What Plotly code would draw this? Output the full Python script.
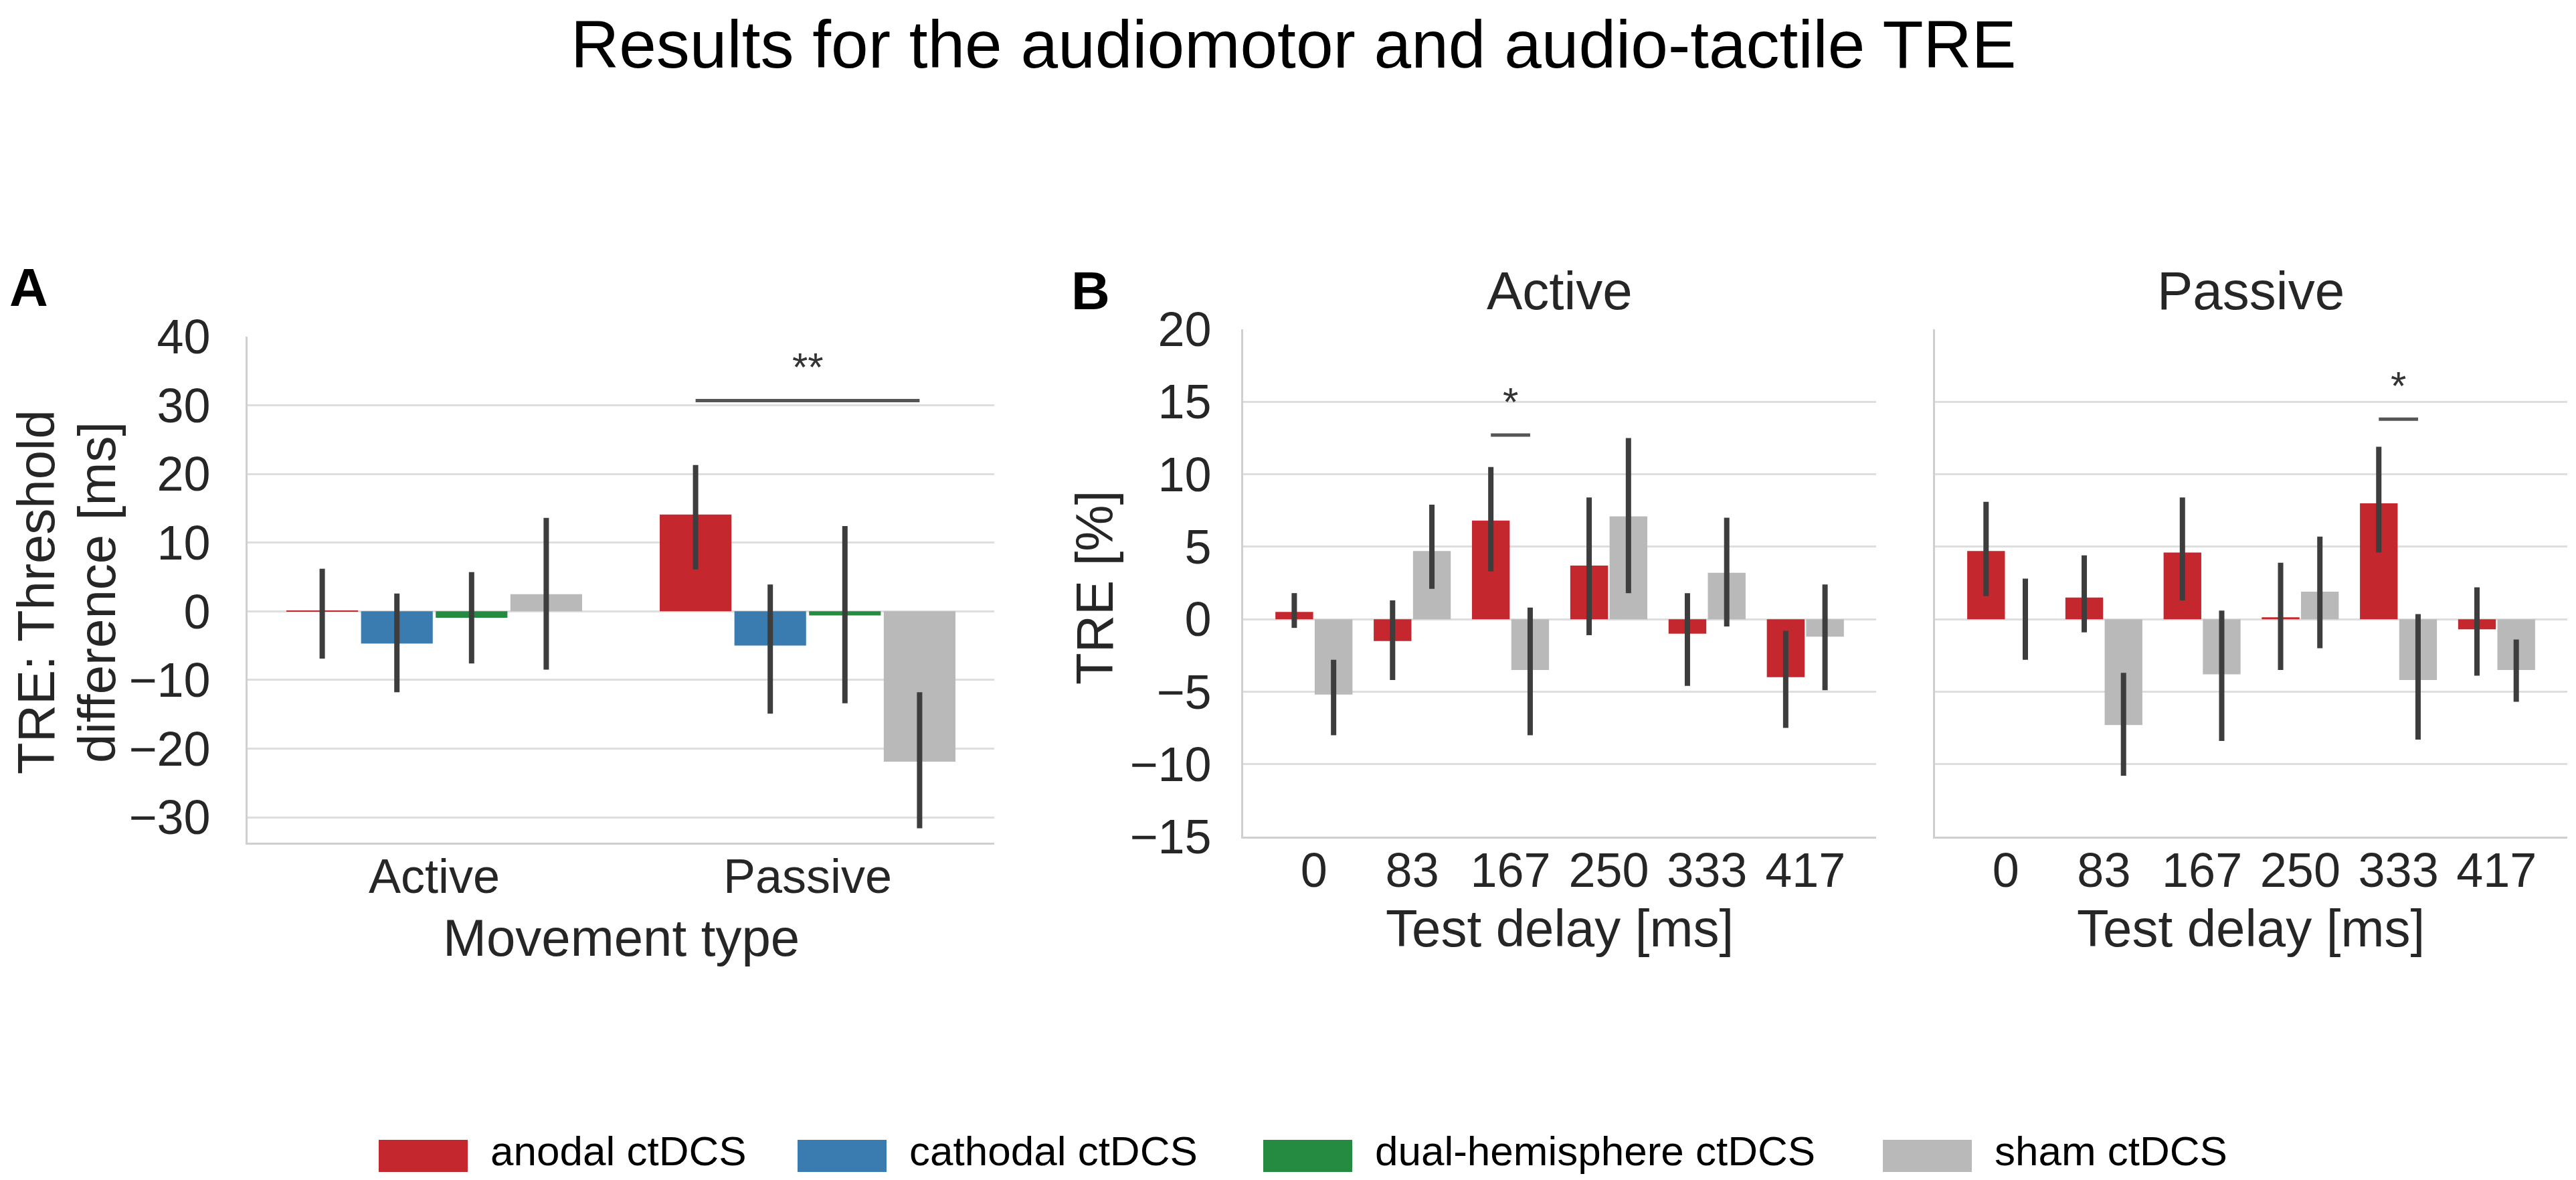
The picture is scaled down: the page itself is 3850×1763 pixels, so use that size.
import plotly.graph_objects as go

# ---------------- data ----------------
movement = ["Active", "Passive"]
hues = ["anodal ctDCS", "cathodal ctDCS", "dual-hemisphere ctDCS", "sham ctDCS"]
colors = ["#c4282e", "#3a7bb0", "#248b40", "#b9b9b9"]

# Panel A: threshold difference [ms] (mean, CI low, CI high) per hue, for Active / Passive
a_anodal = [0.05, 14.1]
a_anodal_lo = [-6.9, 6.1]
a_anodal_hi = [6.2, 21.3]
a_cathodal = [-4.7, -5.0]
a_cathodal_lo = [-11.8, -14.9]
a_cathodal_hi = [2.6, 3.9]
a_dual = [-0.95, -0.6]
a_dual_lo = [-7.6, -13.4]
a_dual_hi = [5.7, 12.4]
a_sham = [2.5, -21.9]
a_sham_lo = [-8.5, -31.6]
a_sham_hi = [13.6, -11.8]

# Panel B: TRE [%] by test delay
delays = ["0", "83", "167", "250", "333", "417"]
b_act_anodal = [0.5, -1.5, 6.8, 3.7, -1.0, -4.0]
b_act_anodal_lo = [-0.6, -4.2, 3.3, -1.1, -4.6, -7.5]
b_act_anodal_hi = [1.8, 1.3, 10.5, 8.4, 1.8, -0.8]
b_act_sham = [-5.2, 4.7, -3.5, 7.1, 3.2, -1.2]
b_act_sham_lo = [-8.0, 2.1, -8.0, 1.8, -0.5, -4.9]
b_act_sham_hi = [-2.8, 7.9, 0.8, 12.5, 7.0, 2.4]
b_pas_anodal = [4.7, 1.5, 4.6, 0.13, 8.0, -0.7]
b_pas_anodal_lo = [1.6, -0.9, 1.3, -3.5, 4.6, -3.9]
b_pas_anodal_hi = [8.1, 4.4, 8.4, 3.9, 11.9, 2.2]
b_pas_sham = [0.0, -7.3, -3.8, 1.9, -4.2, -3.5]
b_pas_sham_lo = [-2.8, -10.8, -8.4, -2.0, -8.3, -5.7]
b_pas_sham_hi = [2.8, -3.7, 0.6, 5.7, 0.35, -1.4]

# significance brackets: (category, y level, label)
sig_a = [("Passive", 30.7, "**")]
sig_b_active = [("167", 12.7, "*")]
sig_b_passive = [("333", 13.8, "*")]

a_ticks = [-30, -20, -10, 0, 10, 20, 30, 40]
b_ticks = [-15, -10, -5, 0, 5, 10, 15, 20]

# ---------------- figure ----------------
FONT = "Liberation Sans, Arial, Helvetica, sans-serif"
TXT = "#262626"
ERR = "#3d3d3d"
W, H = 3850, 1763


def err(mean, lo, hi):
    return dict(type="data", symmetric=False,
                array=[h - m for m, h in zip(mean, hi)],
                arrayminus=[m - l for m, l in zip(mean, lo)],
                thickness=8, width=0, color=ERR)


fig = go.Figure()

a_series = [(a_anodal, a_anodal_lo, a_anodal_hi),
            (a_cathodal, a_cathodal_lo, a_cathodal_hi),
            (a_dual, a_dual_lo, a_dual_hi),
            (a_sham, a_sham_lo, a_sham_hi)]
for name, col, (m, lo, hi) in zip(hues, colors, a_series):
    fig.add_trace(go.Bar(x=movement, y=m, name=name, marker_color=col,
                         marker_line_width=0, error_y=err(m, lo, hi),
                         xaxis="x", yaxis="y", showlegend=False))

b_sets = [
    ("x2", "y2", [(b_act_anodal, b_act_anodal_lo, b_act_anodal_hi),
                  (b_act_sham, b_act_sham_lo, b_act_sham_hi)]),
    ("x3", "y3", [(b_pas_anodal, b_pas_anodal_lo, b_pas_anodal_hi),
                  (b_pas_sham, b_pas_sham_lo, b_pas_sham_hi)]),
]
for xa, ya, series in b_sets:
    for (name, col), (m, lo, hi) in zip([(hues[0], colors[0]), (hues[3], colors[3])], series):
        fig.add_trace(go.Bar(x=delays, y=m, name=name, marker_color=col,
                             marker_line_width=0, error_y=err(m, lo, hi),
                             xaxis=xa, yaxis=ya, showlegend=False))


def px(x):
    return x / W


def py(y):
    return 1 - y / H


GRID = "#dedede"
LINE = "#cfcfcf"
tickfont = dict(family=FONT, size=72, color=TXT)

xcommon = dict(type="category", showgrid=False, showline=True, linecolor=LINE,
               linewidth=3, ticks="", ticklen=0, tickfont=tickfont, zeroline=False,
               ticklabelstandoff=-14, automargin=False, fixedrange=True)
ycommon = dict(showgrid=True, gridcolor=GRID, gridwidth=3, showline=True,
               linecolor=LINE, linewidth=3, ticks="", tickfont=tickfont,
               zeroline=False, automargin=False, fixedrange=True)

fig.update_layout(
    width=W, height=H,
    margin=dict(l=0, r=0, t=0, b=0),
    paper_bgcolor="white", plot_bgcolor="white",
    barmode="group", bargap=0.2, bargroupgap=0.04,
    showlegend=False,
    font=dict(family=FONT, color=TXT),
    xaxis=dict(xcommon, domain=[px(362), px(1478)], anchor="y",
               range=[-0.5, 1.5], categoryorder="array", categoryarray=movement),
    yaxis=dict(ycommon, domain=[py(1251), py(495)], anchor="x",
               range=[-33.7, 40], tickvals=a_ticks, ticklabelstandoff=38),
    xaxis2=dict(xcommon, domain=[px(1850), px(2796)], anchor="y2",
                range=[-0.72, 5.72], categoryorder="array", categoryarray=delays),
    yaxis2=dict(ycommon, domain=[py(1242), py(484)], anchor="x2",
                range=[-15, 20], tickvals=b_ticks, ticklabelstandoff=30),
    xaxis3=dict(xcommon, domain=[px(2884), px(3829)], anchor="y3",
                range=[-0.72, 5.72], categoryorder="array", categoryarray=delays),
    yaxis3=dict(ycommon, domain=[py(1242), py(484)], anchor="x3",
                range=[-15, 20], tickvals=b_ticks, showticklabels=False,
                matches="y2"),
)

shapes = []
annotations = []

# significance brackets
a_off = {h: -0.4 + 0.2 * (i + 0.5) for i, h in enumerate(hues)}
for cat, lvl, lab in sig_a:
    ci = movement.index(cat)
    shapes.append(dict(type="line", xref="x", yref="y",
                       x0=ci + a_off[hues[0]], x1=ci + a_off[hues[3]], y0=lvl, y1=lvl,
                       line=dict(color="#555555", width=5)))
    annotations.append(dict(x=ci, y=lvl, xref="x", yref="y", text=lab,
                            showarrow=False, yanchor="bottom", yshift=14,
                            font=dict(family=FONT, size=60, color="#333333")))
for (xr, yr), sigs in [(("x2", "y2"), sig_b_active), (("x3", "y3"), sig_b_passive)]:
    for cat, lvl, lab in sigs:
        ci = delays.index(cat)
        shapes.append(dict(type="line", xref=xr, yref=yr,
                           x0=ci - 0.2, x1=ci + 0.2, y0=lvl, y1=lvl,
                           line=dict(color="#555555", width=5)))
        annotations.append(dict(x=ci, y=lvl, xref=xr, yref=yr, text=lab,
                                showarrow=False, yanchor="bottom", yshift=14,
                                font=dict(family=FONT, size=60, color="#333333")))


def ann(text, x, y, size, color=TXT, angle=0, bold=False, xanchor="center",
        yanchor="middle"):
    t = f"<b>{text}</b>" if bold else text
    annotations.append(dict(text=t, x=px(x), y=py(y), xref="paper", yref="paper",
                            showarrow=False, textangle=angle, xanchor=xanchor,
                            yanchor=yanchor,
                            font=dict(family=FONT, size=size, color=color)))


ann("Results for the audiomotor and audio-tactile TRE", 1925, 0, 100,
    color="#000000", yanchor="top")
ann("A", 35, 422, 80, color="#000000", bold=True)
ann("B", 1622, 426, 80, color="#000000", bold=True)
ann("Active", 2323, 426, 80)
ann("Passive", 3356, 426, 80)
ann("TRE: Threshold", 46, 877, 78, angle=-90)
ann("difference [ms]", 137, 877, 78, angle=-90)
ann("TRE [%]", 1628, 870, 78, angle=-90)
ann("Movement type", 920, 1393, 78)
ann("Test delay [ms]", 2323, 1379, 78)
ann("Test delay [ms]", 3356, 1379, 78)

# legend (drawn manually to match large swatches)
leg_x = [558, 1184, 1880, 2806]
for name, col, lx in zip(hues, colors, leg_x):
    shapes.append(dict(type="rect", xref="paper", yref="paper",
                       x0=px(lx), x1=px(lx + 133), y0=py(1743), y1=py(1695),
                       fillcolor=col, line=dict(width=0)))
    annotations.append(dict(text=name, x=px(lx + 165), y=py(1711), xref="paper",
                            yref="paper", showarrow=False, xanchor="left",
                            yanchor="middle",
                            font=dict(family=FONT, size=62, color="#000000")))

fig.update_layout(shapes=shapes, annotations=annotations)

fig.write_html("out.html")
